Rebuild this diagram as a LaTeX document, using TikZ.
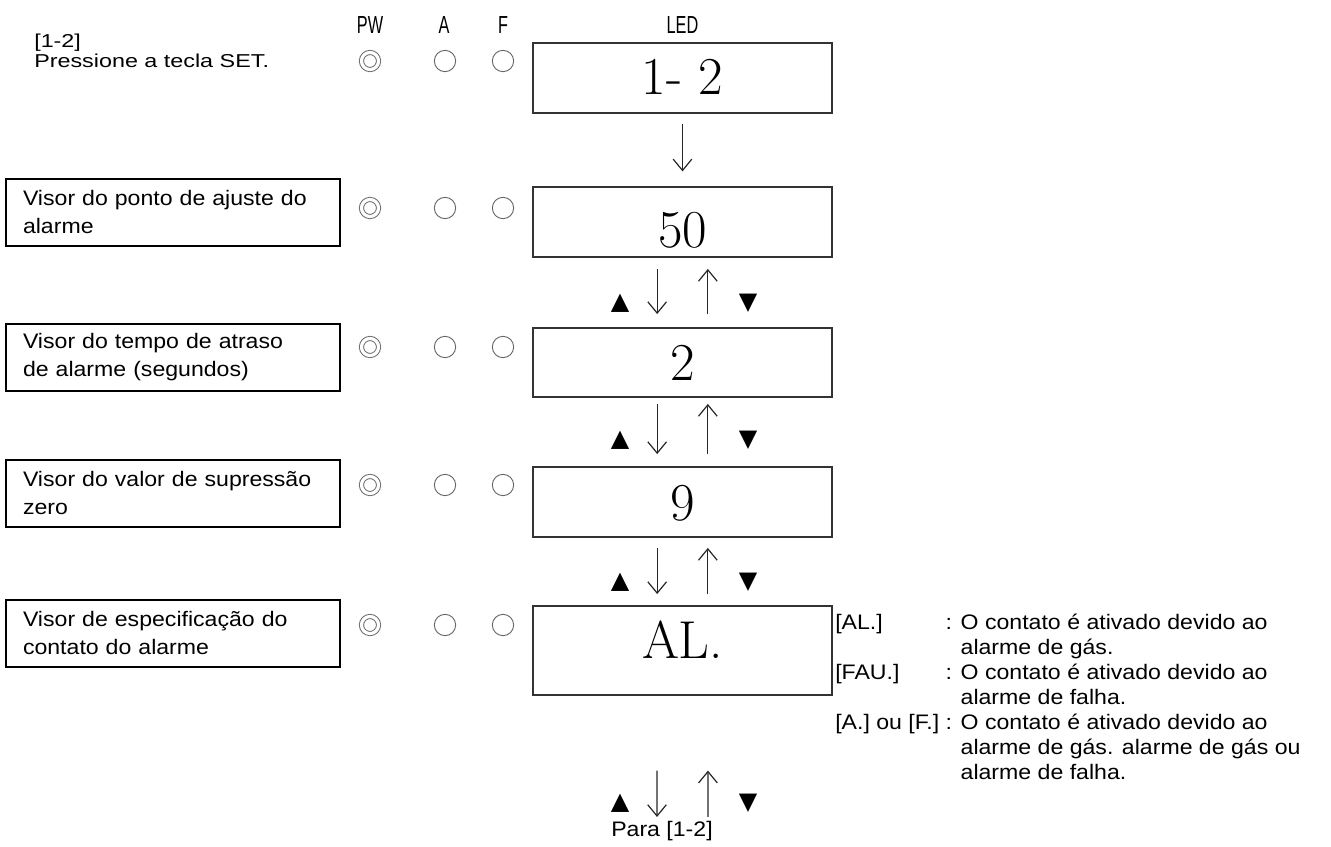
\documentclass[tikz,border=0pt]{standalone}
\usepackage{fontspec}
\setmainfont{Liberation Sans}[FakeStretch=1.1]
\newfontfamily\widefont{Liberation Sans}[FakeStretch=1.25]
\newfontfamily\symfont{DejaVu Sans}
\usepackage{graphicx}
\usetikzlibrary{arrows.meta,positioning,calc}

\begin{document}
\begin{tikzpicture}[x=0.75pt,y=-0.75pt,
    infobox/.style={draw,line width=1.5pt,inner sep=0pt,minimum width=250.5pt,minimum height=50.25pt,text width=225pt,align=left,font=\fontsize{15.75}{21}\selectfont},
    ledbox/.style={draw=black!80,line width=1.4pt,inner sep=0pt,minimum width=224.25pt},
    ledtext/.style={font=\fontfamily{lmr}\fontsize{40}{40}\selectfont,inner sep=0pt},
    lamp/.style={circle,draw=black!60,line width=0.7pt,minimum size=16pt,inner sep=0pt},
    pwlamp/.style={circle,draw=black!60,line width=0.7pt,double=white,double distance=2.4pt,minimum size=12.8pt,inner sep=0pt},
    colhead/.style={font=\fontsize{18.5}{18.5}\selectfont,inner sep=0pt},
    key/.style={font=\symfont\fontsize{18}{18}\selectfont,inner sep=0pt},
    flow/.style={-{Straight Barb[length=8.5pt,width=14pt]},line width=0.9pt,black!85},
    plain/.style={font=\fontsize{15.75}{19}\selectfont}]
\useasboundingbox (0,0) rectangle (1331,846);

\node[anchor=north west,align=left,inner sep=0pt,font=\widefont\fontsize{14}{14.5}\selectfont] (intro) at (34,34) {[1-2]\\Pressione a tecla SET.};

\node[colhead] (hpw) at (370,25) {\scalebox{0.6}[1]{PW}};
\node[colhead] (ha) at (444,25) {\scalebox{0.6}[1]{A}};
\node[colhead] (hf) at (503,25) {\scalebox{0.6}[1]{F}};
\node[colhead] (hled) at (682.5,25) {\scalebox{0.6}[1]{LED}};

\node[pwlamp] (pw1) at (370,61) {};
\node[lamp] (a1) at (445,61) {};
\node[lamp] (f1) at (503,61) {};
\node[pwlamp] (pw2) at (370,208) {};
\node[lamp] (a2) at (445,208) {};
\node[lamp] (f2) at (503,208) {};
\node[pwlamp] (pw3) at (370,347) {};
\node[lamp] (a3) at (445,347) {};
\node[lamp] (f3) at (503,347) {};
\node[pwlamp] (pw4) at (370,485) {};
\node[lamp] (a4) at (445,485) {};
\node[lamp] (f4) at (503,485) {};
\node[pwlamp] (pw5) at (370,625) {};
\node[lamp] (a5) at (445,625) {};
\node[lamp] (f5) at (503,625) {};

\node[ledbox,minimum height=52.5pt] (led1) at (682.5,78) {};
\node[ledtext] (v1) at (682.5,77) {1- 2};
\node[ledbox,minimum height=52.5pt] (led2) at (682.5,222) {};
\node[ledtext] (v2) at (682.5,230) {50};
\node[ledbox,minimum height=51.75pt] (led3) at (682.5,362.5) {};
\node[ledtext] (v3) at (682.5,363) {2};
\node[ledbox,minimum height=52.5pt] (led4) at (682.5,502) {};
\node[ledtext] (v4) at (682.5,503) {9};
\node[ledbox,minimum height=66.75pt] (led5) at (682.5,650.5) {};
\node[ledtext] (v5) at (682.5,640) {AL.};

\node[infobox] (info1) at (173,212) {Visor do ponto de ajuste do\\alarme};
\node[infobox] (info2) at (173,357.5) {Visor do tempo de atraso\\de alarme (segundos)};
\node[infobox] (info3) at (173,493) {Visor do valor de supressão\\zero};
\node[infobox] (info4) at (173,633) {Visor de especificação do\\contato do alarme};

\node[plain,anchor=north west,inner sep=0pt] (notes) at (835,612) {%
  \fontsize{15.75}{18.75}\selectfont
  \begin{tabular}{@{}l@{\ }l@{}}
  {[AL.]} & : O contato é ativado devido ao\\
        & \hphantom{: }alarme de gás.\\
  {[FAU.]} & : O contato é ativado devido ao\\
        & \hphantom{: }alarme de falha.\\
  {[A.] ou [F.]} & : O contato é ativado devido ao\\
        & \hphantom{: }alarme de gás. alarme de gás ou\\
        & \hphantom{: }alarme de falha.
  \end{tabular}};

\node[plain,inner sep=0pt] (back) at (662,831) {Para [1-2]};

\draw[flow,shorten <=7.5pt,shorten >=11pt] (led1.south) -- (led2.north);

\draw[flow,shorten <=8.25pt,shorten >=9.75pt] ([xshift=-19pt]led2.south) -- ([xshift=-19pt]led3.north);
\draw[flow,shorten <=9.75pt,shorten >=8.25pt] ([xshift=19pt]led3.north) -- ([xshift=19pt]led2.south);
\node[key] (up1) at (620,303) {▲};
\node[key] (dn1) at (748,303) {▼};

\draw[flow,shorten <=4.5pt,shorten >=9pt] ([xshift=-19pt]led3.south) -- ([xshift=-19pt]led4.north);
\draw[flow,shorten <=9pt,shorten >=4.5pt] ([xshift=19pt]led4.north) -- ([xshift=19pt]led3.south);
\node[key] (up2) at (620,440) {▲};
\node[key] (dn2) at (748,440) {▼};

\draw[flow,shorten <=7.5pt,shorten >=8.25pt] ([xshift=-19pt]led4.south) -- ([xshift=-19pt]led5.north);
\draw[flow,shorten <=8.25pt,shorten >=7.5pt] ([xshift=19pt]led5.north) -- ([xshift=19pt]led4.south);
\node[key] (up3) at (620,582) {▲};
\node[key] (dn3) at (748,582) {▼};

\draw[flow,shorten <=56pt,shorten >=3pt] ([xshift=-19pt]led5.south) -- ([xshift=-3.75pt]back.north);
\draw[flow,shorten <=3pt,shorten >=56pt] ([xshift=34.5pt]back.north) -- ([xshift=19pt]led5.south);
\node[key] (up4) at (620,803) {▲};
\node[key] (dn4) at (748,803) {▼};
\end{tikzpicture}
\end{document}
